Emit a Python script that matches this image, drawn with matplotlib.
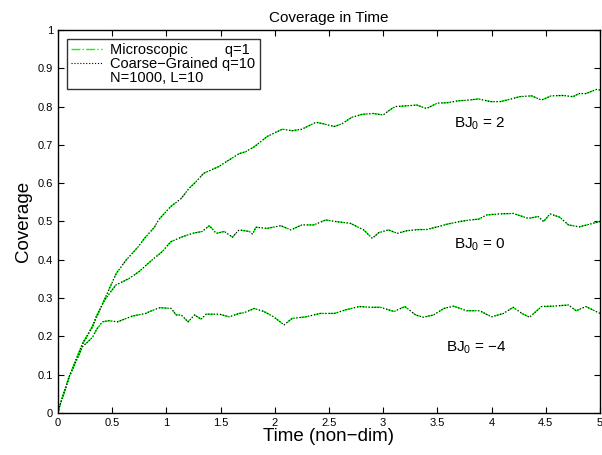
import matplotlib
matplotlib.use('Agg')
import matplotlib.pyplot as plt
from matplotlib.lines import Line2D

plt.rcParams['font.family'] = ['Liberation Sans', 'DejaVu Sans']
plt.rcParams['mathtext.default'] = 'regular'

# BJ0 = 2
t_bj2 = [0, 0.01, 0.104, 0.227, 0.319, 0.441, 0.539, 0.631, 0.74, 0.809,
         0.89, 0.93, 1.01, 1.04, 1.137, 1.21, 1.26, 1.345, 1.48, 1.575,
         1.67, 1.73, 1.81, 1.93, 2.07, 2.16, 2.25, 2.38, 2.45, 2.55,
         2.62, 2.71, 2.81, 2.91, 3.0, 3.05, 3.11, 3.22, 3.31, 3.40,
         3.50, 3.59, 3.69, 3.79, 3.88, 3.99, 4.08, 4.17, 4.26, 4.37,
         4.46, 4.55, 4.66, 4.75, 4.81, 4.87, 4.97, 5.0]
c_bj2 = [0, 0.013, 0.095, 0.182, 0.227, 0.304, 0.365, 0.4, 0.434, 0.46,
         0.485, 0.505, 0.53, 0.539, 0.56, 0.587, 0.6, 0.626, 0.643, 0.66,
         0.677, 0.682, 0.695, 0.722, 0.741, 0.737, 0.741, 0.759, 0.755, 0.748,
         0.755, 0.772, 0.78, 0.782, 0.778, 0.789, 0.8, 0.802, 0.804, 0.795,
         0.809, 0.81, 0.815, 0.817, 0.82, 0.813, 0.813, 0.819, 0.826, 0.828,
         0.817, 0.828, 0.829, 0.826, 0.834, 0.834, 0.845, 0.843]

# BJ0 = 0
t_bj0 = [0, 0.01, 0.104, 0.227, 0.319, 0.35, 0.43, 0.533, 0.655, 0.747,
         0.87, 0.96, 1.04, 1.146, 1.24, 1.33, 1.397, 1.46, 1.535, 1.61,
         1.67, 1.765, 1.795, 1.826, 1.93, 2.056, 2.148, 2.25, 2.36, 2.47,
         2.56, 2.70, 2.82, 2.90, 2.96, 3.05, 3.13, 3.22, 3.33, 3.40,
         3.50, 3.59, 3.71, 3.80, 3.88, 3.955, 4.08, 4.20, 4.34, 4.43,
         4.48, 4.54, 4.63, 4.71, 4.81, 4.905, 5.0]
c_bj0 = [0, 0.013, 0.095, 0.18, 0.225, 0.25, 0.295, 0.334, 0.351, 0.369,
         0.4, 0.421, 0.447, 0.46, 0.469, 0.474, 0.489, 0.469, 0.474, 0.459,
         0.478, 0.474, 0.467, 0.485, 0.482, 0.489, 0.478, 0.491, 0.491, 0.504,
         0.5, 0.495, 0.478, 0.456, 0.471, 0.478, 0.469, 0.476, 0.479, 0.479,
         0.486, 0.493, 0.5, 0.504, 0.506, 0.517, 0.52, 0.521, 0.508, 0.513,
         0.5, 0.52, 0.511, 0.491, 0.486, 0.493, 0.5]

# BJ0 = -4
t_bjm4 = [0, 0.01, 0.104, 0.227, 0.319, 0.36, 0.41, 0.47, 0.55, 0.594,
          0.686, 0.81, 0.846, 0.94, 1.045, 1.09, 1.137, 1.20, 1.26, 1.32,
          1.367, 1.49, 1.58, 1.67, 1.72, 1.81, 1.90, 1.99, 2.086, 2.16,
          2.285, 2.42, 2.55, 2.65, 2.78, 2.88, 2.975, 3.10, 3.20, 3.30,
          3.37, 3.465, 3.56, 3.65, 3.77, 3.89, 4.0, 4.11, 4.20, 4.28,
          4.35, 4.46, 4.57, 4.71, 4.78, 4.87, 5.0]
c_bjm4 = [0, 0.013, 0.095, 0.173, 0.198, 0.22, 0.238, 0.241, 0.238, 0.243,
          0.253, 0.26, 0.265, 0.275, 0.273, 0.256, 0.256, 0.238, 0.256, 0.245,
          0.258, 0.258, 0.251, 0.26, 0.262, 0.273, 0.265, 0.251, 0.23, 0.247,
          0.251, 0.26, 0.26, 0.269, 0.278, 0.276, 0.276, 0.265, 0.278, 0.256,
          0.25, 0.256, 0.273, 0.279, 0.267, 0.267, 0.251, 0.26, 0.276, 0.26,
          0.25, 0.278, 0.279, 0.282, 0.267, 0.278, 0.26]

curves = [(t_bj2, c_bj2), (t_bj0, c_bj0), (t_bjm4, c_bjm4)]
labels = ['BJ$_0$ = 2', 'BJ$_0$ = 0', 'BJ$_0$ = \u22124']
label_pos = [(3.65, 0.755), (3.65, 0.44), (3.58, 0.17)]

xticks = [0, 0.5, 1, 1.5, 2, 2.5, 3, 3.5, 4, 4.5, 5]
yticks = [0, 0.1, 0.2, 0.3, 0.4, 0.5, 0.6, 0.7, 0.8, 0.9, 1]

fig = plt.figure(figsize=(6.02, 4.55), dpi=100)
ax = fig.add_axes([0.0963, 0.0923, 0.9003, 0.8418])

for t, c in curves:
    ax.plot(t, c, color='lime', linestyle='-.', linewidth=1.0)
    ax.plot(t, c, color='black', linestyle=':', linewidth=0.8)

for lab, (x, y) in zip(labels, label_pos):
    ax.text(x, y, lab, fontsize=11, va='center', ha='left')

ax.set_xlim(0, 5)
ax.set_ylim(0, 1)
ax.set_xticks(xticks)
ax.set_xticklabels(['%g' % v for v in xticks])
ax.set_yticks(yticks)
ax.set_yticklabels(['%g' % v for v in yticks])
ax.tick_params(direction='in', top=True, right=True, length=4,
               labelsize=8, width=0.8)
for s in ax.spines.values():
    s.set_linewidth(1.0)

ax.set_title('Coverage in Time', fontsize=11, pad=6)
ax.set_xlabel('Time (non\u2212dim)', fontsize=13.5, labelpad=0)
ax.set_ylabel('Coverage', fontsize=13.5, labelpad=4)

handles = [Line2D([], [], color='lime', linestyle='-.', linewidth=1.0),
           Line2D([], [], color='black', linestyle=':', linewidth=0.8),
           Line2D([], [], linestyle='none')]
leg_labels = ['Microscopic         q=1', 'Coarse\u2212Grained q=10',
              'N=1000, L=10']
leg = ax.legend(handles, leg_labels, loc='upper left', fontsize=10.5,
                frameon=True, fancybox=False, shadow=False,
                handlelength=2.1, borderaxespad=0.6, labelspacing=0.0,
                borderpad=0.3, handletextpad=0.6)
leg.get_frame().set_edgecolor('black')
leg.get_frame().set_linewidth(1.0)

fig.savefig('out.png', dpi=100)
